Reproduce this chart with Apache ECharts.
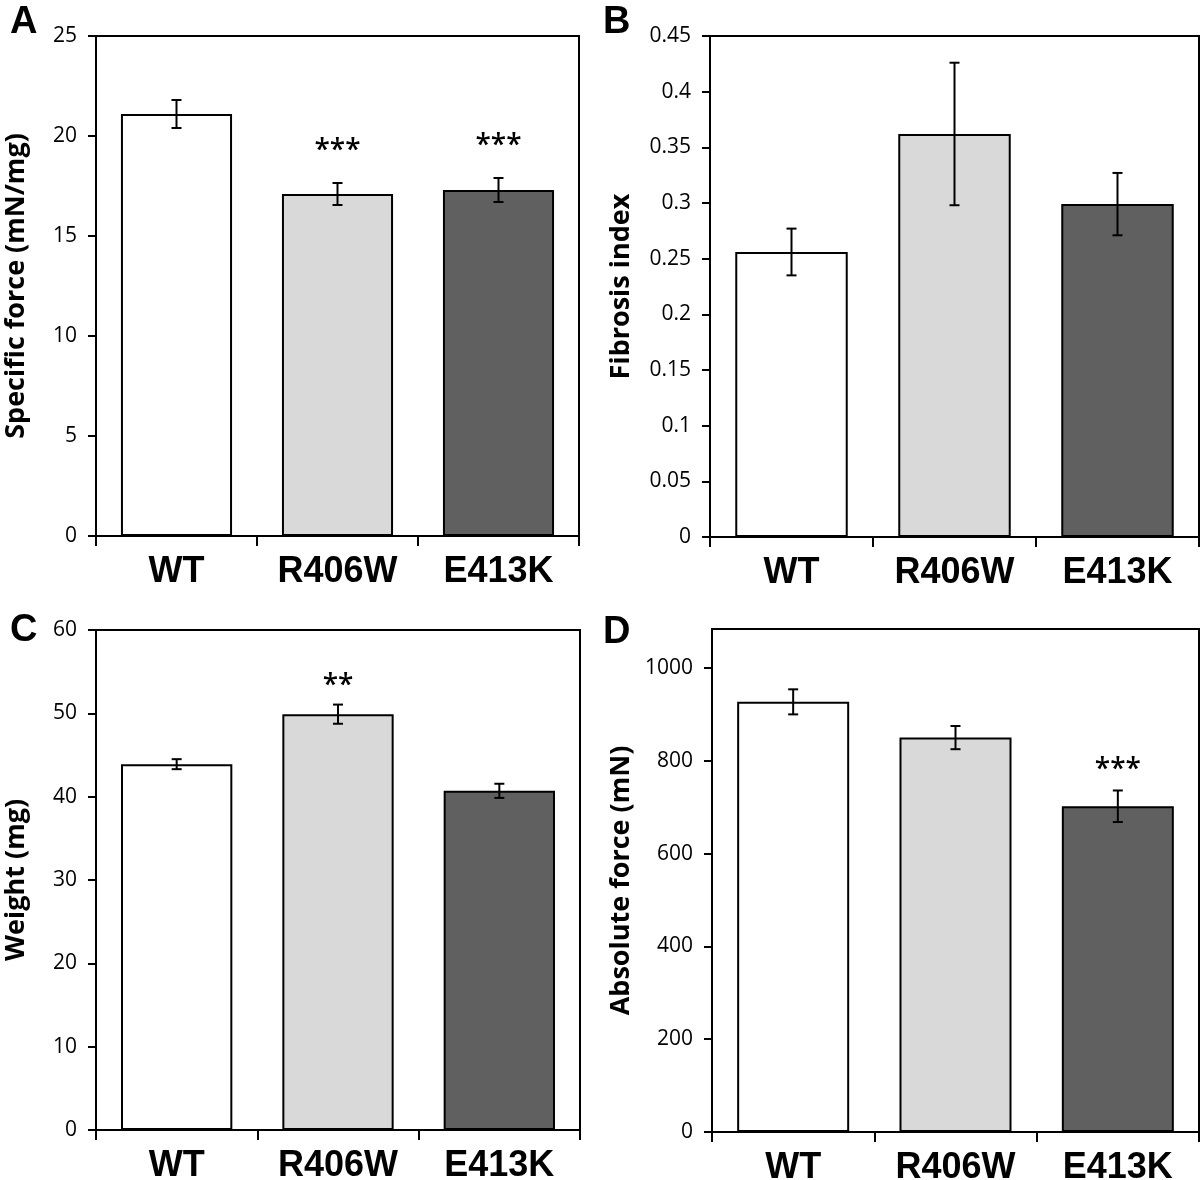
<!DOCTYPE html>
<html>
<head>
<meta charset="utf-8">
<script src="https://cdn.jsdelivr.net/npm/echarts@6/dist/echarts.min.js"></script>
<style>html,body{margin:0;padding:0;background:#fff;}#c{width:1200px;height:1180px;}</style>
</head>
<body>
<div id="c"></div>
<script>
const categories = ['WT', 'R406W', 'E413K'];

const specificForce = [21.1, 17.1, 17.3];
const specificForceErr = [0.7, 0.55, 0.6];
const specificForceStars = ['', '***', '***'];

const fibrosis = [0.256, 0.362, 0.299];
const fibrosisErr = [0.021, 0.064, 0.028];
const fibrosisStars = ['', '', ''];

const weight = [43.9, 49.9, 40.7];
const weightErr = [0.6, 1.15, 0.85];
const weightStars = ['', '**', ''];

const absForce = [927, 850, 702];
const absForceErr = [27, 25, 34];
const absForceStars = ['', '', '***'];

const barColors = ['#ffffff', '#d9d9d9', '#606060'];

const panels = [
  {letter: 'A', name: 'Specific force (mN/mg)', vals: specificForce, errs: specificForceErr, stars: specificForceStars,
   min: 0, max: 25, interval: 5, grid: {left: 96, top: 36, width: 483, height: 500}, starOff: 32, nameGap: 66, lx: 10, ly: 4},
  {letter: 'B', name: 'Fibrosis index', vals: fibrosis, errs: fibrosisErr, stars: fibrosisStars,
   min: 0, max: 0.45, interval: 0.05, grid: {left: 710, top: 36, width: 489, height: 501}, starOff: 20, nameGap: 75, lx: 603, ly: 4},
  {letter: 'C', name: 'Weight (mg)', vals: weight, errs: weightErr, stars: weightStars,
   min: 0, max: 60, interval: 10, grid: {left: 96, top: 630, width: 484, height: 500}, starOff: 19, nameGap: 66, lx: 10, ly: 612},
  {letter: 'D', name: 'Absolute force (mN)', vals: absForce, errs: absForceErr, stars: absForceStars,
   min: 0, max: 1084, interval: 200, grid: {left: 712, top: 629, width: 487, height: 503}, starOff: 20, nameGap: 77, lx: 603, ly: 614}
];

const grids = [], xAxes = [], yAxes = [], series = [], titles = [];
panels.forEach((p, i) => {
  grids.push(Object.assign({show: true, borderColor: '#000', borderWidth: 2, backgroundColor: 'transparent',
    containLabel: false, outerBoundsMode: 'none'}, p.grid));
  xAxes.push({
    type: 'category', gridIndex: i, data: categories,
    axisLine: {lineStyle: {color: '#000', width: 2}},
    axisTick: {show: true, length: 10, lineStyle: {color: '#000', width: 2}},
    axisLabel: {color: '#000', fontFamily: 'Liberation Sans', fontWeight: 'bold', fontSize: 36, margin: 18}
  });
  yAxes.push({
    type: 'value', gridIndex: i, min: p.min, max: p.max, interval: p.interval,
    name: p.name, nameLocation: 'middle', nameRotate: 90, nameGap: p.nameGap,
    nameTextStyle: {color: '#000', fontFamily: 'Open Sans', fontWeight: 'bold', fontSize: 27},
    splitLine: {show: false},
    axisLine: {show: true, lineStyle: {color: '#000', width: 2}},
    axisTick: {show: true, length: 8, lineStyle: {color: '#000', width: 2}},
    axisLabel: {color: '#000', fontFamily: 'Open Sans', fontSize: 21, margin: 19,
      showMaxLabel: p.letter !== 'D', formatter: v => String(+v.toFixed(2))}
  });
  series.push({
    type: 'bar', xAxisIndex: i, yAxisIndex: i, barWidth: '69%',
    data: p.vals.map((v, k) => ({value: v, itemStyle: {color: barColors[k], borderColor: '#000', borderWidth: 2}})),
    silent: true, animation: false
  });
  series.push({
    type: 'custom', xAxisIndex: i, yAxisIndex: i, silent: true, animation: false, z: 10,
    data: p.vals.map((v, k) => [k, v, p.errs[k]]),
    renderItem: (params, api) => {
      const x = api.value(0), m = api.value(1), e = api.value(2);
      const top = api.coord([x, m + e]);
      const bot = api.coord([x, m - e]);
      const cw = 5;
      const style = {stroke: '#000', lineWidth: 2};
      const children = [
        {type: 'line', shape: {x1: top[0], y1: top[1], x2: bot[0], y2: bot[1]}, style},
        {type: 'line', shape: {x1: top[0] - cw, y1: top[1], x2: top[0] + cw, y2: top[1]}, style},
        {type: 'line', shape: {x1: bot[0] - cw, y1: bot[1], x2: bot[0] + cw, y2: bot[1]}, style}
      ];
      const s = p.stars[params.dataIndex];
      if (s) {
        children.push({type: 'text', style: {text: s, x: top[0], y: top[1] - p.starOff, align: 'center', verticalAlign: 'middle',
          fill: '#000', font: '600 28px "Open Sans"'}});
      }
      return {type: 'group', children};
    }
  });
  titles.push({text: p.letter, left: p.lx, top: p.ly, padding: 0,
    textStyle: {color: '#000', fontFamily: 'Liberation Sans', fontWeight: 'bold', fontSize: 38}});
});

const chart = echarts.init(document.getElementById('c'), null, {renderer: 'canvas'});
chart.setOption({
  animation: false,
  backgroundColor: '#fff',
  title: titles,
  grid: grids,
  xAxis: xAxes,
  yAxis: yAxes,
  series: series
});
</script>
</body>
</html>
